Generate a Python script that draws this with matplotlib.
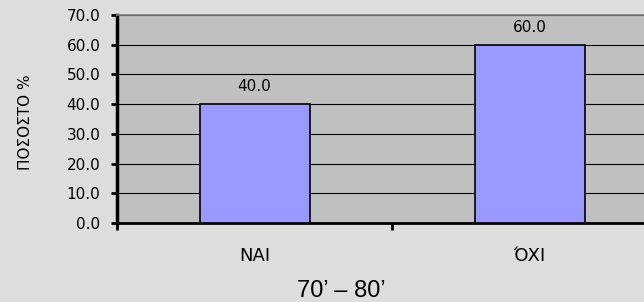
import matplotlib
matplotlib.use("Agg")
import matplotlib.pyplot as plt
from matplotlib.ticker import FormatStrFormatter

categories = ["ΝΑΙ", "ΌΧΙ"]
values = [40.0, 60.0]
y_ticks = [0, 10, 20, 30, 40, 50, 60, 70]

# the original text is wide, DejaVu gets closer to it than Liberation
plt.rcParams["font.family"] = ["DejaVu Sans"]

fig = plt.figure(figsize=(6.44, 3.02), dpi=100)
fig.patch.set_facecolor("#DDDDDD")

# plot area runs past the right edge of the picture, as in the original
ax = fig.add_axes([117 / 644, 79 / 302, 550 / 644, 208 / 302])
ax.set_facecolor("#C0C0C0")

xs = list(range(len(categories)))
ax.bar(xs, values, width=0.4, color="#9999FF", edgecolor="black",
       linewidth=1.2, zorder=3)
for x, v in zip(xs, values):
    ax.annotate(f"{v:.1f}", (x, v), xytext=(0, 7), textcoords="offset points",
                ha="center", va="bottom", fontsize=11)

ax.set_xlim(-0.5, len(categories) - 0.5)
ax.set_ylim(0, 70)
ax.set_yticks(y_ticks)
ax.yaxis.set_major_formatter(FormatStrFormatter("%.1f"))
ax.grid(axis="y", color="black", linewidth=0.8, zorder=1)
ax.set_axisbelow(True)

# boundaries get tick marks, category centres get the labels
ax.set_xticks([x - 0.5 for x in xs] + [xs[-1] + 0.5])
ax.set_xticklabels([])
ax.set_xticks(xs, minor=True)
ax.set_xticklabels(categories, minor=True, fontsize=13)
ax.tick_params(axis="x", which="minor", length=0, pad=17)
ax.tick_params(axis="x", which="major", length=5, width=2, direction="out")
ax.tick_params(axis="y", length=4, width=2, direction="out", pad=8,
               labelsize=11)

ax.spines["left"].set_linewidth(2.5)
ax.spines["bottom"].set_linewidth(2)
ax.spines["top"].set_color("#808080")
ax.spines["top"].set_linewidth(1.2)
ax.spines["right"].set_visible(False)

fig.text(26 / 644, 1 - 122 / 302, "ΠΟΣΟΣΤΟ %", rotation=90,
         ha="center", va="center", fontsize=11)
fig.text(341 / 644, 5 / 302, "70’ – 80’", ha="center", va="baseline",
         fontsize=17, family="Liberation Sans")

fig.savefig("out.png", dpi=100, facecolor=fig.get_facecolor())
